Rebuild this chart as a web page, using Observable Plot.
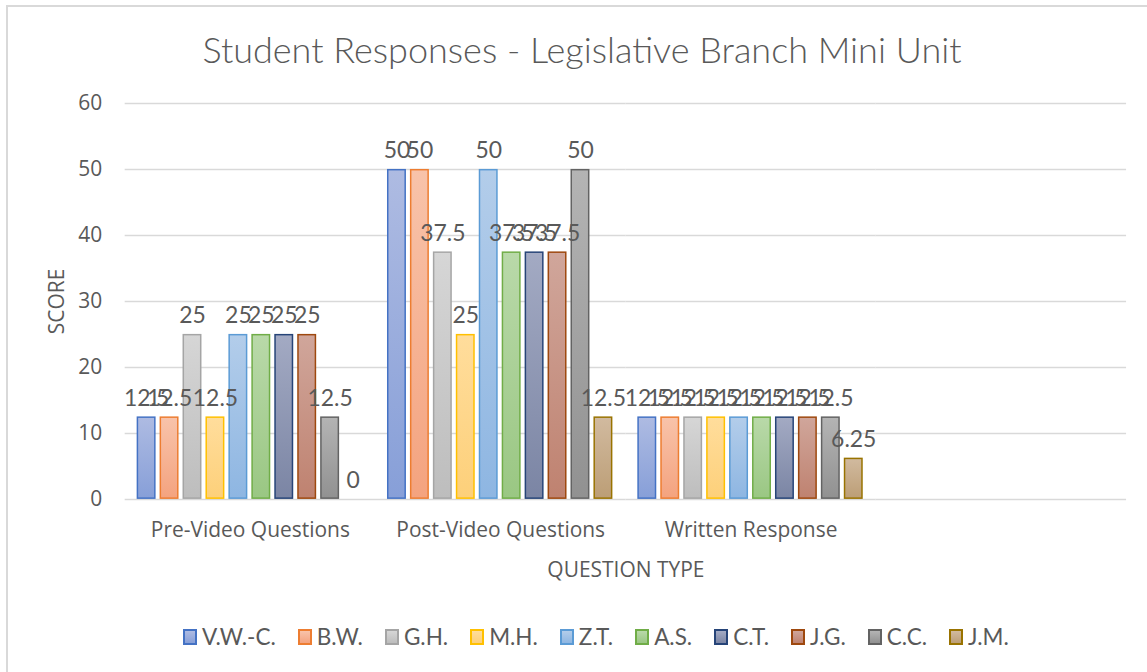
<!DOCTYPE html>
<html>
<head>
<meta charset="utf-8">
<script src="https://cdn.jsdelivr.net/npm/d3@7"></script>
<script src="https://cdn.jsdelivr.net/npm/@observablehq/plot@0.6"></script>
<style>
  html, body { margin: 0; padding: 0; background: #fff; }
  #chart { position: relative; width: 1147px; height: 672px; overflow: hidden; font-family: "Open Sans", sans-serif; color: #595959; }
  #border { position: absolute; left: 6px; top: 5px; width: 1160px; height: 700px; border-left: 2px solid #d9d9d9; border-top: 2px solid #d9d9d9; box-sizing: border-box; }
  #title { position: absolute; left: 0; top: 27px; width: 1164px; text-align: center; font-family: "Lato", sans-serif; font-weight: 300; font-size: 36px; color: #595959; line-height: 44px; }
  #plot { position: absolute; left: 0; top: 80px; }
  #legend { position: absolute; left: 183px; top: 623px; display: flex; gap: 22px; align-items: center; font-family: "Lato", sans-serif; font-size: 22.5px; color: #595959; }
  .item { display: flex; align-items: center; gap: 5px; }
  .sw { width: 10px; height: 12px; border-width: 2px; border-style: solid; box-sizing: content-box; }
</style>
</head>
<body>
<div id="chart">
  <div id="border"></div>
  <div id="title">Student Responses - Legislative Branch Mini Unit</div>
  <div id="plot"></div>
  <div id="legend"></div>
</div>
<script>
const categories = ["Pre-Video Questions", "Post-Video Questions", "Written Response", " "];
const students = ["V.W.-C.", "B.W.", "G.H.", "M.H.", "Z.T.", "A.S.", "C.T.", "J.G.", "C.C.", "J.M."];
const preVideo = [12.5, 12.5, 25, 12.5, 25, 25, 25, 25, 12.5, 0];
const postVideo = [50, 50, 37.5, 25, 50, 37.5, 37.5, 37.5, 50, 12.5];
const written = [12.5, 12.5, 12.5, 12.5, 12.5, 12.5, 12.5, 12.5, 12.5, 6.25];
const yTicks = [0, 10, 20, 30, 40, 50, 60];
const strokeColors = ["#4472C4", "#ED7D31", "#A5A5A5", "#FFC000", "#5B9BD5", "#70AD47", "#264478", "#9E480E", "#636363", "#997300"];
const gradTop = ["#AEBBE2", "#F8C3AA", "#D6D6D6", "#FFDD9C", "#B3CDEA", "#B9D9A9", "#A3AAC3", "#D0A69B", "#B4B4B4", "#D1BA9F"];
const gradBottom = ["#879FD8", "#F4A37F", "#BDBDBD", "#FDD07A", "#8EB6E2", "#9AC783", "#7B85A4", "#BF8270", "#919191", "#BC9E76"];

const seriesByCat = [preVideo, postVideo, written];
const data = [];
seriesByCat.forEach((vals, ci) => vals.forEach((v, si) => data.push({cat: categories[ci], student: students[si], si, value: v})));
const gridData = [];
categories.forEach(c => yTicks.forEach(t => gridData.push({cat: c, y: t})));

const barMarks = students.map((s, si) =>
  Plot.barY(data.filter(d => d.si === si), {fx: "cat", x: "student", y: "value",
    fill: `url(#grad${si})`, stroke: strokeColors[si], strokeWidth: 1.5, inset: 0.75})
);

const plot = Plot.plot({
  width: 1150,
  height: 520,
  marginTop: 23,
  marginBottom: 100,
  marginLeft: 124,
  marginRight: 21,
  style: {fontFamily: "Open Sans, sans-serif", fontSize: "21px", color: "#595959", background: "transparent"},
  fx: {domain: categories, padding: 0, label: "QUESTION TYPE", labelAnchor: "center", labelOffset: 78, labelArrow: "none", tickSize: 0, tickPadding: 23, axis: "bottom"},
  x: {domain: students, paddingInner: 0.17, paddingOuter: 0.4, axis: null},
  y: {domain: [0, 60], ticks: yTicks, label: "SCORE", labelAnchor: "center", labelOffset: 76, labelArrow: "none", tickSize: 0, tickPadding: 23},
  marks: [
    Plot.ruleY(gridData, {fx: "cat", y: "y", stroke: "#d9d9d9", strokeWidth: 1.5}),
    ...barMarks,
    Plot.text(data, {fx: "cat", x: "student", y: "value", text: d => String(d.value), lineAnchor: "bottom", dy: -11, fill: "#595959", fontSize: 23, fontFamily: "Lato, sans-serif"})
  ]
});

const svg = d3.select(plot);
const defs = svg.insert("defs", ":first-child");
students.forEach((s, i) => {
  const g = defs.append("linearGradient").attr("id", `grad${i}`).attr("x1", 0).attr("y1", 0).attr("x2", 0).attr("y2", 1);
  g.append("stop").attr("offset", "0%").attr("stop-color", gradTop[i]);
  g.append("stop").attr("offset", "100%").attr("stop-color", gradBottom[i]);
});
svg.selectAll("g[aria-label$='axis'] text, g[aria-label$='label'] text").attr("fill", "#595959");
document.getElementById("plot").appendChild(plot);

const legend = d3.select("#legend");
students.forEach((s, i) => {
  const it = legend.append("div").attr("class", "item");
  it.append("div").attr("class", "sw").style("border-color", strokeColors[i])
    .style("background", `linear-gradient(${gradTop[i]}, ${gradBottom[i]})`);
  it.append("span").text(s);
});
</script>
</body>
</html>
